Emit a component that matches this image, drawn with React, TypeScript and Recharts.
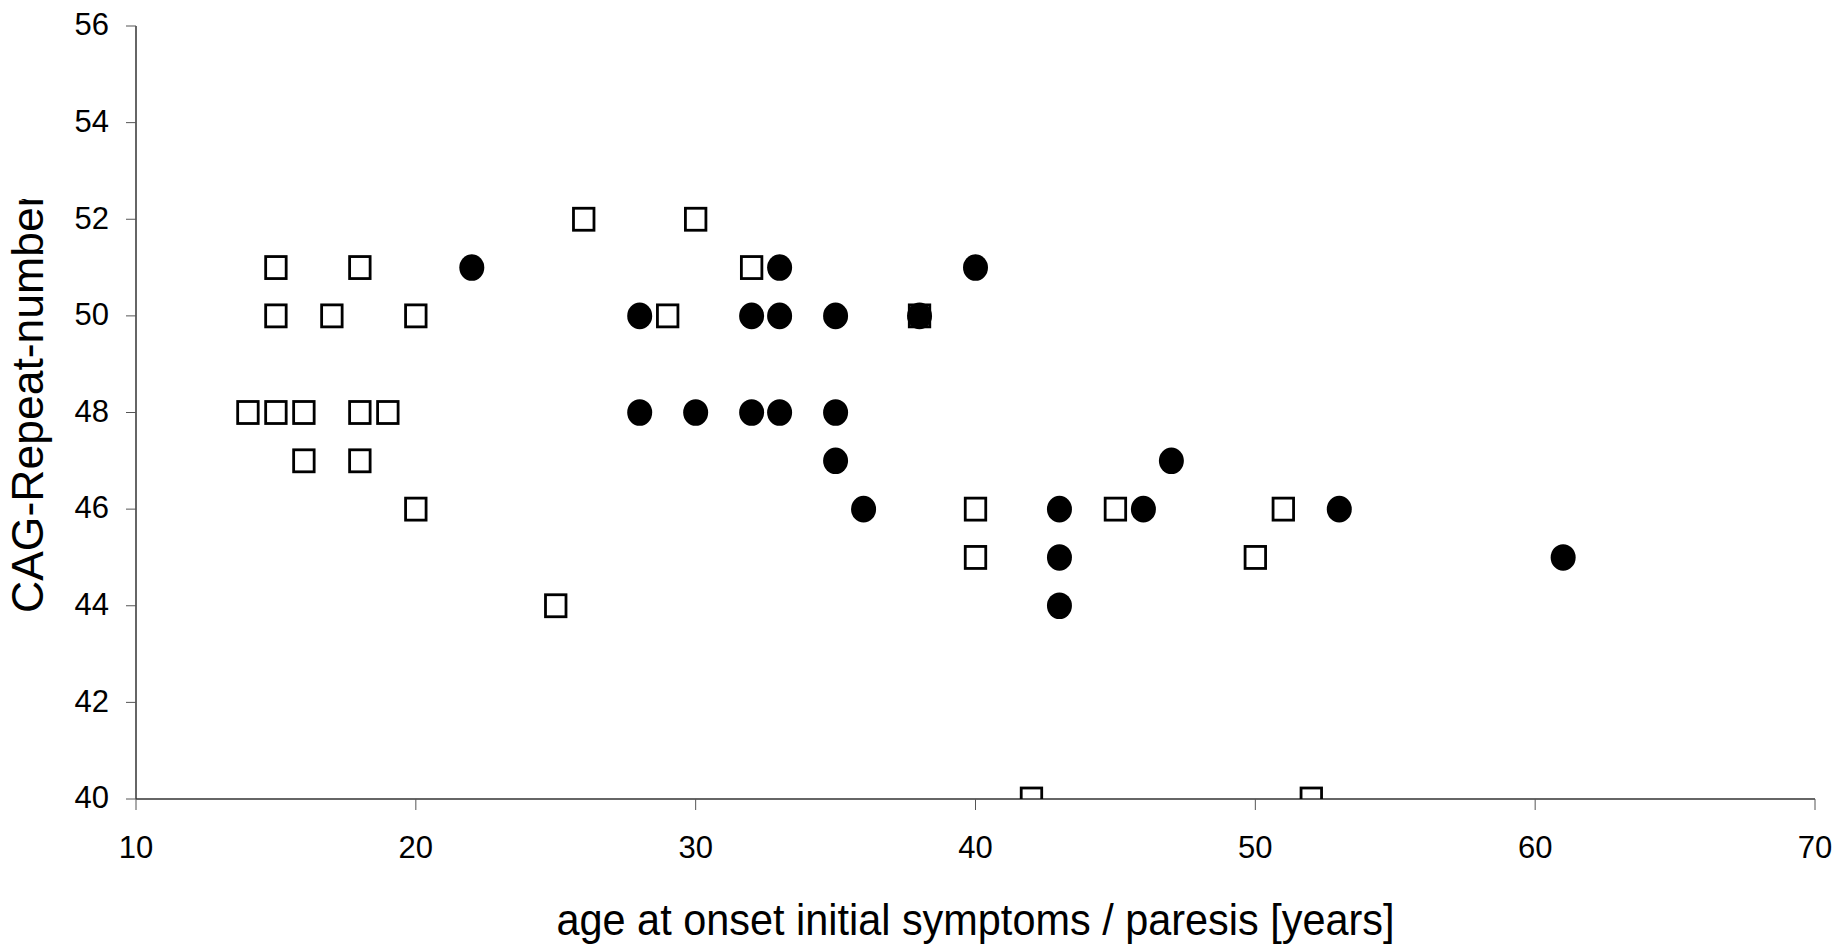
import React from 'react';
import { ScatterChart, Scatter, XAxis, YAxis } from 'recharts';

// axis ticks
const X_TICKS = [10, 20, 30, 40, 50, 60, 70];
const Y_TICKS = [40, 42, 44, 46, 48, 50, 52, 54, 56];

// open squares
const openAges = [14, 15, 15, 15, 16, 16, 17, 18, 18, 18, 19, 20, 20, 25, 26, 29, 30, 32, 38, 40, 40, 42, 45, 50, 51, 52];
const openRepeats = [48, 51, 50, 48, 48, 47, 50, 51, 48, 47, 48, 50, 46, 44, 52, 50, 52, 51, 50, 46, 45, 40, 46, 45, 46, 40];

// filled circles
const filledAges = [22, 28, 28, 30, 32, 32, 33, 33, 33, 35, 35, 35, 36, 38, 40, 43, 43, 43, 46, 47, 53, 61];
const filledRepeats = [51, 50, 48, 48, 50, 48, 51, 50, 48, 50, 48, 47, 46, 50, 51, 46, 45, 44, 46, 47, 46, 45];

const openData = openAges.map((age, i) => ({ age, repeats: openRepeats[i] }));
const filledData = filledAges.map((age, i) => ({ age, repeats: filledRepeats[i] }));

const FONT = 'Arial, "Liberation Sans", sans-serif';

const SquareDot = (props: any) => {
  const { cx, cy } = props;
  return (
    <rect x={cx - 10.25} y={cy - 11} width={20.5} height={22} fill="none" stroke="#000" strokeWidth={2.8} />
  );
};

const CircleDot = (props: any) => {
  const { cx, cy } = props;
  return <ellipse cx={cx} cy={cy} rx={12.5} ry={13.3} fill="#000" />;
};

const XTick = (props: any) => {
  const { x, y, payload } = props;
  return (
    <text x={x} y={y} dy="0.71em" textAnchor="middle" fontFamily={FONT} fontSize={31} fill="#000">
      {payload.value}
    </text>
  );
};

const YTick = (props: any) => {
  const { x, y, payload } = props;
  return (
    <text x={x} y={y} dy="0.3em" textAnchor="end" fontFamily={FONT} fontSize={31} fill="#000">
      {payload.value}
    </text>
  );
};

// x title: the original font is a bit narrower than Arial, squeeze it to the same length
const XTitle = (props: any) => {
  const vb = props.viewBox || { x: 136, y: 799, width: 1679, height: 147 };
  return (
    <text
      x={vb.x + vb.width / 2}
      y={vb.y + vb.height - 11}
      textAnchor="middle"
      textLength={838}
      lengthAdjust="spacingAndGlyphs"
      fontFamily={FONT}
      fontSize={44}
      fill="#000"
    >
      age at onset initial symptoms / paresis [years]
    </text>
  );
};

// y title is cut off at the top in the original, so clip it
const YTitle = (props: any) => {
  const vb = props.viewBox || { x: 0, y: 26, width: 136, height: 773 };
  const tx = vb.x + 43;
  const ty = vb.y + vb.height - 186;
  return (
    <g clipPath="url(#ytitle-clip)">
      <defs>
        <clipPath id="ytitle-clip">
          <rect x={vb.x} y={vb.y + 173} width={vb.width} height={vb.height} />
        </clipPath>
      </defs>
      <text
        x={tx}
        y={ty}
        transform={`rotate(-90 ${tx} ${ty})`}
        textAnchor="start"
        fontFamily={FONT}
        fontSize={44.5}
        fill="#000"
      >
        CAG-Repeat-number
      </text>
    </g>
  );
};

const App: React.FC = () => {
  return (
    <div style={{ position: 'absolute', left: 0, top: 0, width: 1848, height: 946, background: '#fff' }}>
      <ScatterChart width={1848} height={946} margin={{ top: 26, right: 33, bottom: 0, left: 0 }}>
        <XAxis
          type="number"
          dataKey="age"
          domain={[10, 70]}
          ticks={X_TICKS}
          allowDataOverflow
          height={147}
          tickSize={11}
          tickMargin={26}
          axisLine={{ stroke: '#333', strokeWidth: 1.5 }}
          tickLine={{ stroke: '#555' }}
          tick={<XTick />}
          label={{ content: XTitle }}
        />
        <YAxis
          type="number"
          dataKey="repeats"
          domain={[40, 56]}
          ticks={Y_TICKS}
          allowDataOverflow
          width={136}
          tickSize={10}
          tickMargin={17}
          axisLine={{ stroke: '#333', strokeWidth: 1.5 }}
          tickLine={{ stroke: '#555' }}
          tick={<YTick />}
          label={{ content: YTitle }}
        />
        <Scatter data={openData} shape={SquareDot} isAnimationActive={false} />
        <Scatter data={filledData} shape={CircleDot} isAnimationActive={false} />
      </ScatterChart>
    </div>
  );
};

export default App;
